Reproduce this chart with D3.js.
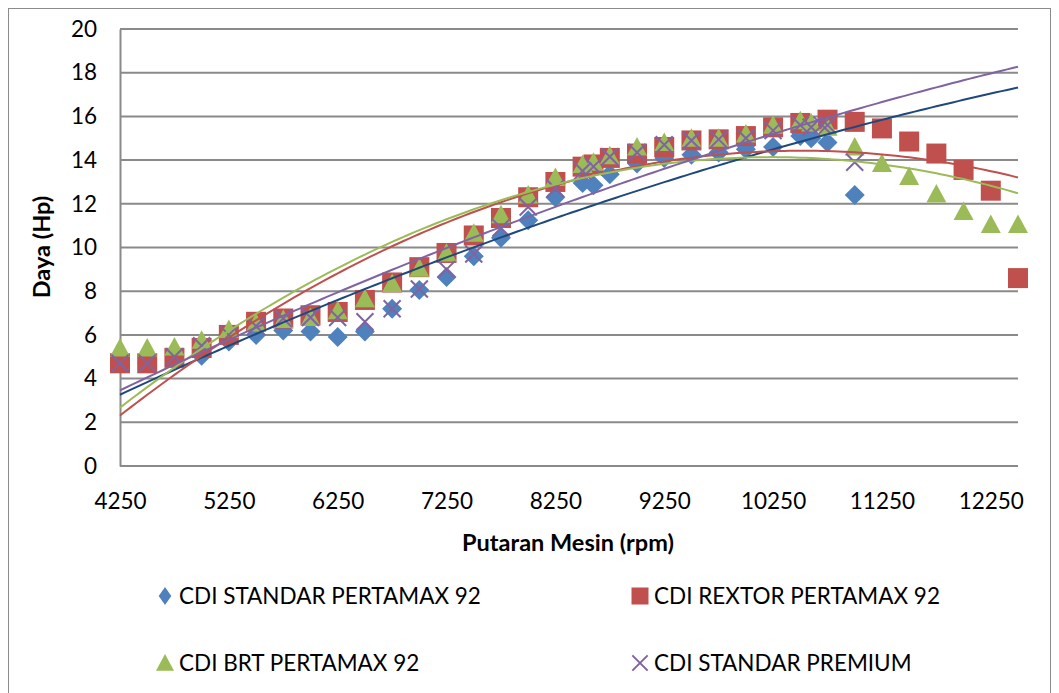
<!DOCTYPE html>
<html>
<head>
<meta charset="utf-8">
<script src="https://cdn.jsdelivr.net/npm/d3@7"></script>
<style>
  body { margin: 0; background: #fff; }
  text { font-family: Lato, "Open Sans", sans-serif; fill: #000; }
</style>
</head>
<body>
<div id="chart"></div>
<script>
// rpm values for each series
var rpmStandar = [4250,4500,4750,5000,5250,5500,5750,6000,6250,6500,6750,7000,7250,7500,7750,8000,8250,8500,8600,8750,9000,9250,9500,9750,10000,10250,10500,10600,10750,11000];
var dayaStandar = [4.7,4.7,4.9,5.05,5.7,6.0,6.2,6.15,5.9,6.15,7.2,8.05,8.65,9.6,10.45,11.25,12.3,12.95,12.85,13.35,13.85,14.1,14.25,14.35,14.5,14.6,15.1,15.0,14.8,12.4];

var rpmRextor = [4250,4500,4750,5000,5250,5500,5750,6000,6250,6500,6750,7000,7250,7500,7750,8000,8250,8500,8600,8750,9000,9250,9500,9750,10000,10250,10500,10750,11000,11250,11500,11750,12000,12250,12500];
var dayaRextor = [4.7,4.7,4.95,5.4,6.0,6.6,6.75,6.9,7.05,7.6,8.4,9.1,9.75,10.55,11.35,12.3,13.0,13.7,13.8,14.1,14.3,14.6,14.9,14.95,15.1,15.5,15.7,15.85,15.75,15.45,14.85,14.3,13.55,12.6,8.6];

var rpmBrt = [4250,4500,4750,5000,5250,5500,5750,6000,6250,6500,6750,7000,7250,7500,7750,8000,8250,8500,8600,8750,9000,9250,9500,9750,10000,10250,10500,10600,10750,11000,11250,11500,11750,12000,12250,12500];
var dayaBrt = [5.4,5.4,5.45,5.75,6.25,6.55,6.7,6.8,7.1,7.65,8.35,9.05,9.75,10.65,11.5,12.4,13.2,13.8,13.9,14.2,14.6,14.8,15.0,15.0,15.2,15.6,15.8,15.7,15.5,14.6,13.85,13.25,12.45,11.65,11.05,11.05];

var rpmPremium = [4250,4500,4750,5000,5250,5500,5750,6000,6250,6500,6750,7000,7250,7500,7750,8000,8250,8500,8600,8750,9000,9250,9500,9750,10000,10250,10500,10600,10700,10750,11000];
var dayaPremium = [4.7,4.7,5.0,5.5,6.0,6.4,6.75,6.8,6.8,6.6,7.2,8.1,9.0,9.7,10.9,11.85,12.7,13.5,13.7,14.15,14.35,14.7,14.9,14.95,15.0,15.35,15.6,15.5,15.6,15.6,13.9];

var seriesNames = ["CDI STANDAR PERTAMAX 92", "CDI REXTOR PERTAMAX 92", "CDI BRT PERTAMAX 92", "CDI STANDAR PREMIUM"];
var xTicks = [4250,5250,6250,7250,8250,9250,10250,11250,12250];
var yTicks = [0,2,4,6,8,10,12,14,16,18,20];

var markerColors = ["#4f81bd", "#c0504d", "#9bbb59", "#8064a2"];
var trendColors = ["#1f497d", "#c0504d", "#9bbb59", "#8064a2"];
var shapes = ["diamond", "square", "triangle", "cross"];

var allSeries = [
  {name: seriesNames[0], x: rpmStandar, y: dayaStandar},
  {name: seriesNames[1], x: rpmRextor, y: dayaRextor},
  {name: seriesNames[2], x: rpmBrt, y: dayaBrt},
  {name: seriesNames[3], x: rpmPremium, y: dayaPremium}
];

// least squares polynomial order 2 (like excel trendline)
function polyFit(xs, ys){
  var n = xs.length;
  var s = [0,0,0,0,0], t = [0,0,0];
  for (var i = 0; i < n; i++){
    var u = (xs[i] - 8000) / 1000;
    var p = 1;
    for (var k = 0; k < 5; k++){ s[k] += p; if (k < 3) t[k] += p * ys[i]; p *= u; }
  }
  var A = [[s[0],s[1],s[2],t[0]],[s[1],s[2],s[3],t[1]],[s[2],s[3],s[4],t[2]]];
  for (var c = 0; c < 3; c++){
    for (var r = c + 1; r < 3; r++){
      var f = A[r][c] / A[c][c];
      for (var j = c; j < 4; j++) A[r][j] -= f * A[c][j];
    }
  }
  var b = [0,0,0];
  for (var r2 = 2; r2 >= 0; r2--){
    var v = A[r2][3];
    for (var j2 = r2 + 1; j2 < 3; j2++) v -= A[r2][j2] * b[j2];
    b[r2] = v / A[r2][r2];
  }
  return function(x){ var u = (x - 8000) / 1000; return b[0] + b[1]*u + b[2]*u*u; };
}

var svgwidth = 1059, svgheight = 693;
var svg = d3.select("#chart").append("svg")
  .attr("width", svgwidth)
  .attr("height", svgheight);

svg.append("rect")
  .attr("x", 8.5).attr("y", 8.5)
  .attr("width", 1042).attr("height", 700)
  .style("fill", "none").style("stroke", "#8c8c8c").style("stroke-width", 1);

var xScale = d3.scaleLinear().domain([4250, 12500]).range([120, 1018]);
var yScale = d3.scaleLinear().domain([0, 20]).range([466, 29]);

// gridlines
svg.append("g").selectAll("line").data(yTicks).enter().append("line")
  .attr("x1", 120).attr("x2", 1018)
  .attr("y1", function(d){ return yScale(d); })
  .attr("y2", function(d){ return yScale(d); })
  .style("stroke", "#8a8a8a").style("stroke-width", 2);

// left axis
var yAxis = d3.axisLeft(yScale).tickValues(yTicks).tickSize(0).tickPadding(23);
var gy = svg.append("g").attr("transform", "translate(120,0)").call(yAxis);
gy.select(".domain").style("stroke", "#8a8a8a").style("stroke-width", 2);
gy.selectAll("text").style("font-size", "22.5px");

var xAxis = d3.axisBottom(xScale).tickValues(xTicks).tickSize(0).tickPadding(27).tickFormat(d3.format("d"));
var gx = svg.append("g").attr("transform", "translate(0,466)").call(xAxis);
gx.select(".domain").remove();
gx.selectAll("text").style("font-size", "22.5px");

// axis titles
svg.append("text")
  .attr("x", 568).attr("y", 551)
  .attr("text-anchor", "middle")
  .style("font-size", "23.5px").style("font-weight", "bold")
  .text("Putaran Mesin (rpm)");

svg.append("text")
  .attr("transform", "translate(50,247) rotate(-90)")
  .attr("text-anchor", "middle")
  .style("font-size", "23.5px").style("font-weight", "bold")
  .text("Daya (Hp)");

function drawMarker(g, shape, color, size){
  var h = size / 2;
  if (shape == "diamond"){
    g.append("path").attr("d", "M0," + (-h) + "L" + h + ",0L0," + h + "L" + (-h) + ",0Z").style("fill", color);
  } else if (shape == "square"){
    g.append("rect").attr("x", -h).attr("y", -h).attr("width", size).attr("height", size).style("fill", color);
  } else if (shape == "triangle"){
    g.append("path").attr("d", "M0," + (-h) + "L" + h + "," + (h*0.85) + "L" + (-h) + "," + (h*0.85) + "Z").style("fill", color);
  } else {
    var c = h * 0.85;
    g.append("path").attr("d", "M" + (-c) + "," + (-c) + "L" + c + "," + c + "M" + (-c) + "," + c + "L" + c + "," + (-c))
      .style("stroke", color).style("stroke-width", 2).style("fill", "none");
  }
}

// markers
allSeries.forEach(function(s, i){
  var g = svg.append("g");
  s.x.forEach(function(xv, j){
    var m = g.append("g").attr("transform", "translate(" + xScale(xv) + "," + yScale(s.y[j]) + ")");
    drawMarker(m, shapes[i], markerColors[i], 20);
  });
});

// trendlines
var line = d3.line()
  .x(function(d){ return xScale(d[0]); })
  .y(function(d){ return yScale(d[1]); })
  .curve(d3.curveLinear);
allSeries.forEach(function(s, i){
  var f = polyFit(s.x, s.y);
  var pts = d3.range(4250, 12501, 50).map(function(x){ return [x, f(x)]; });
  svg.append("path").datum(pts)
    .attr("d", line)
    .style("fill", "none")
    .style("stroke", trendColors[i])
    .style("stroke-width", 2);
});

// legend
var legendPos = [[165, 596], [640, 596], [165, 663], [640, 663]];
seriesNames.forEach(function(name, i){
  var lg = svg.append("g").attr("transform", "translate(" + legendPos[i][0] + "," + legendPos[i][1] + ")");
  var sz = (shapes[i] == "square") ? 17 : 18;
  var mk = lg.append("g");
  if (shapes[i] == "diamond") mk.attr("transform", "scale(0.7,1)");
  drawMarker(mk, shapes[i], markerColors[i], sz);
  lg.append("text").attr("x", 14).attr("y", 8)
    .style("font-size", "22.5px")
    .text(name);
});
</script>
</body>
</html>
